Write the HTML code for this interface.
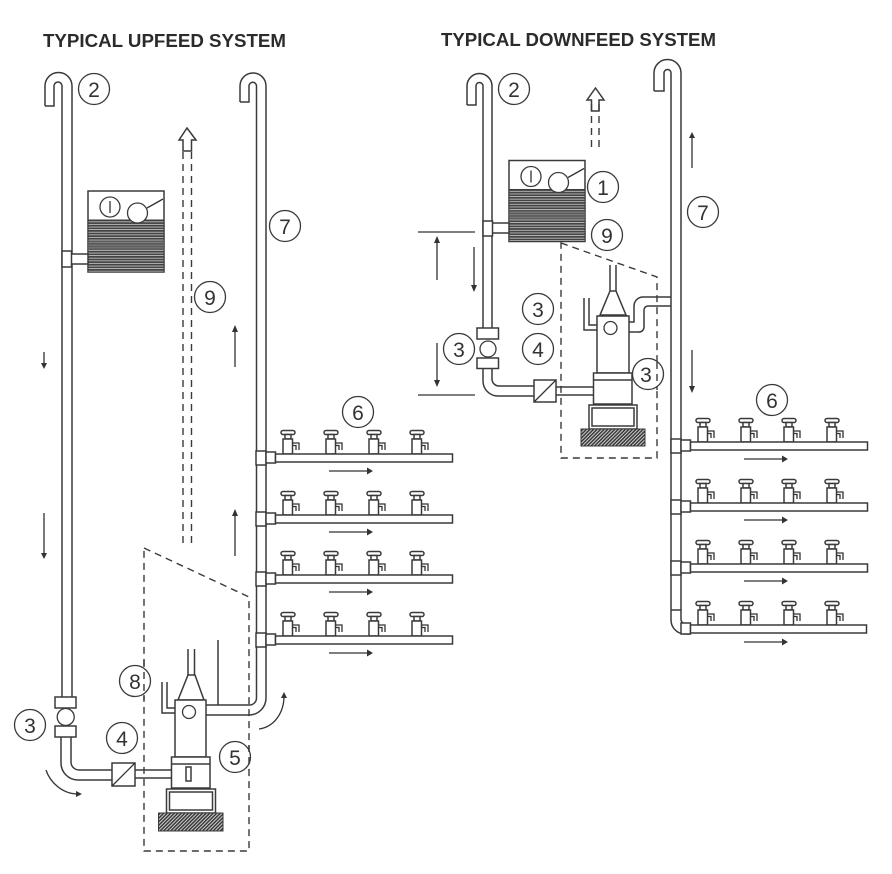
<!DOCTYPE html>
<html><head><meta charset="utf-8"><style>
html,body{margin:0;padding:0;background:#fff}
svg{display:block}
.p{fill:none;stroke:#3a3a3a;stroke-width:1.5}
.w{fill:#fff;stroke:#3a3a3a;stroke-width:1.5}
.d{fill:none;stroke:#3a3a3a;stroke-width:1.4;stroke-dasharray:7 5}
.l{fill:none;stroke:#333;stroke-width:1.3}
.c{fill:#fff;stroke:#3a3a3a;stroke-width:1.3}
text{font-family:"Liberation Sans",sans-serif;fill:#333}
.n{font-size:21px;text-anchor:middle}
.t{font-size:18.500px;font-weight:bold;fill:#2b2b2b}
</style></head><body>
<svg width="892" height="874" viewBox="0 0 892 874" xmlns="http://www.w3.org/2000/svg">
<defs>
<pattern id="st" width="4" height="2.6" patternUnits="userSpaceOnUse"><rect width="4" height="2.6" fill="#ddd"/><rect width="4" height="1.9" fill="#444"/></pattern>
<pattern id="ha" width="2.5" height="2.5" patternUnits="userSpaceOnUse" patternTransform="rotate(-45)"><rect width="2.5" height="2.5" fill="#ddd"/><rect width="2.5" height="1.6" fill="#3a3a3a"/></pattern>
<g id="tank">
<rect x="0" y="0" width="76" height="81" class="w"/>
<rect x="0" y="29" width="76" height="52" fill="url(#st)" stroke="#3a3a3a" stroke-width="1"/>
<rect x="0" y="50" width="76" height="9" fill="#666" opacity=".7"/>
<circle cx="22" cy="16" r="10" class="c"/><path d="M22 10V22" class="l"/>
<circle cx="49.500" cy="22" r="10" class="c"/><path d="M59 17L75 8" class="l"/>
</g>
<g id="f">
<rect x="-7" y="-27.500" width="14" height="4" rx="2" class="w"/>
<rect x="-3" y="-23.500" width="6" height="4.500" class="w"/>
<rect x="-5" y="-19" width="9.500" height="15" class="w"/>
<path d="M4.500-15H11V-8M4.500-12.500H8V-8" class="l"/>
</g>
<g id="row">
<use href="#f" x="32" y="0"/><use href="#f" x="75" y="0"/><use href="#f" x="118" y="0"/><use href="#f" x="161" y="0"/>
<rect x="0" y="-7" width="10" height="14" class="w"/>
<rect x="10" y="-6" width="9.500" height="11" class="w"/>
<rect x="19.500" y="-4" width="177" height="8" class="w"/>
<path d="M73 13H112" class="l"/><path d="M111 9.500L117 13L111 16.500Z" fill="#333"/>
</g>
</defs>
<rect width="892" height="874" fill="#fff"/>

<text class="t" x="43" y="47" textLength="243" lengthAdjust="spacingAndGlyphs">TYPICAL UPFEED SYSTEM</text>
<text class="t" x="441" y="46" textLength="275" lengthAdjust="spacingAndGlyphs">TYPICAL DOWNFEED SYSTEM</text>

<!-- LEFT SYSTEM -->
<path class="p" d="M45 106V86A13.500 13.500 0 0 1 72 86V697M45 106H54V86A4 4 0 0 1 62 86V697"/>
<use href="#tank" x="88" y="191"/>
<rect x="71" y="254" width="17" height="10" class="w"/>
<rect x="62" y="251" width="9.500" height="16" class="w"/>
<rect x="55" y="697" width="21" height="11" class="w"/>
<circle cx="65.700" cy="717" r="8.500" class="c"/>
<rect x="55" y="726" width="21" height="11" class="w"/>
<path class="p" d="M61 737V763A17 17 0 0 0 78 780H112M71 737V762A8 8 0 0 0 79 770H112"/>
<rect x="112" y="763" width="23" height="23" class="w"/><path d="M112 786L135 763" class="l"/>
<path class="p" d="M135 770H171M135 778H171"/>

<path class="d" d="M144 548L249 597V851H144Z"/>
<path class="d" d="M183 152V545M191.500 152V545"/>
<path class="p" d="M187 128L196 140H191.500V151H183V140H179Z"/>

<path class="p" d="M188 649V675M194.500 649V675M218 640V705"/>
<path class="w" d="M188 675H195L204 700H178Z"/>
<path class="p" d="M162 682V713H175M167 682V708H175"/>
<rect x="175" y="700" width="31" height="57" class="w"/>
<circle cx="189" cy="712" r="6.500" class="c"/>
<rect x="171.500" y="757" width="38.500" height="31" class="w"/><path d="M171.500 764H210" class="p"/>
<rect x="186" y="767" width="5" height="14" class="w"/>
<rect x="166.500" y="789" width="49" height="24" class="w"/><rect x="169.500" y="792" width="43" height="18" class="p"/>
<rect x="158.500" y="813" width="64.500" height="18" fill="url(#ha)" stroke="#3a3a3a"/>

<path class="p" d="M240 102V86A13 13 0 0 1 266 86V698A17 17 0 0 1 249 715H206M240 102H249V86A3.500 3.500 0 0 1 256.500 86V698A7 7 0 0 1 249 705H206"/>
<use href="#row" x="256" y="458"/><use href="#row" x="256" y="519"/><use href="#row" x="256" y="579"/><use href="#row" x="256" y="640"/>

<path class="l" d="M44 352V364M44 513V555M235 367V332M235 556V516"/>
<path d="M41 363L44 369L47 363ZM41 553L44 559L47 553ZM232 332L235 325L238 332ZM232 516L235 509L238 516Z" fill="#333"/>
<path class="l" d="M46 770C50 782 62 794 78 794"/><path d="M76 791L82 794L76 797Z" fill="#333"/>
<path class="l" d="M259 729C274 727 284 713 284 696"/><path d="M281 698L284 692L287 698Z" fill="#333"/>

<circle cx="94" cy="89" r="15.500" class="c"/><text class="n" x="94" y="97">2</text>
<circle cx="285" cy="226" r="15.500" class="c"/><text class="n" x="285" y="234">7</text>
<circle cx="210" cy="297" r="15.500" class="c"/><text class="n" x="210" y="305">9</text>
<circle cx="358" cy="412" r="15.500" class="c"/><text class="n" x="358" y="420">6</text>
<circle cx="135" cy="681" r="15.500" class="c"/><text class="n" x="135" y="689">8</text>
<circle cx="30" cy="725" r="15.500" class="c"/><text class="n" x="30" y="733">3</text>
<circle cx="122" cy="738" r="15.500" class="c"/><text class="n" x="122" y="746">4</text>
<circle cx="235" cy="757" r="15.500" class="c"/><text class="n" x="235" y="765">5</text>
<path class="d" d="M144 660V700M249 745V770"/>

<!-- RIGHT SYSTEM -->
<path class="p" d="M467 105V86A12.500 12.500 0 0 1 492 86V328M467 105H476V86A3.500 3.500 0 0 1 483 86V328"/>
<use href="#tank" x="509" y="160.500"/>
<rect x="492" y="223" width="17" height="10" class="w"/>
<rect x="483" y="221" width="9.500" height="15" class="w"/>
<rect x="477" y="328" width="21.500" height="11" class="w"/>
<circle cx="488" cy="349" r="8" class="c"/>
<rect x="477" y="358" width="21.500" height="10.500" class="w"/>
<path class="p" d="M483 368V381A15 15 0 0 0 498 396H534M492 368V379A7 7 0 0 0 499 386H534"/>
<rect x="534" y="380" width="22" height="22" class="w"/><path d="M534 402L556 380" class="l"/>
<path class="p" d="M556 387H593M556 395H593"/>

<path class="d" d="M561 243L657 277V458H561Z"/>
<path class="d" d="M591.500 104V150M599 104V150"/>
<path class="p" d="M595.500 88L604 100H599V111H591.500V100H587Z"/>

<path class="p" d="M610 265V291M616 265V291"/>
<path class="w" d="M610 291H616L626 315H600Z"/>
<path class="p" d="M584 298V330H597M589 298V325H597"/>
<rect x="597" y="316" width="32" height="57" class="w"/>
<circle cx="610.500" cy="328" r="6.500" class="c"/>
<rect x="593.500" y="373" width="38.500" height="31" class="w"/><path d="M593.500 380H632" class="p"/>
<rect x="589" y="405" width="48" height="24" class="w"/><rect x="592" y="408" width="42" height="18" class="p"/>
<rect x="581" y="429" width="64" height="17" fill="url(#ha)" stroke="#3a3a3a"/>
<path class="p" d="M629 322H634V306A9 9 0 0 1 643 297H671M629 332H639A5 5 0 0 0 644 327V310A4 4 0 0 1 648 306H671"/>

<path class="p" d="M654 91V73A13.500 13.500 0 0 1 681 73V610M654 91H664V73A3.500 3.500 0 0 1 671 73V620A14 14 0 0 0 685 634H690"/>
<path class="p" d="M671 610H681V620A5 5 0 0 0 686 624H690"/>
<use href="#row" x="671" y="446"/><use href="#row" x="671" y="507"/><use href="#row" x="671" y="568"/>
<use href="#f" x="703" y="629"/><use href="#f" x="746" y="629"/><use href="#f" x="789" y="629"/><use href="#f" x="832" y="629"/>
<rect x="681" y="623" width="9.500" height="11" class="w"/>
<rect x="690.500" y="625" width="176" height="8" class="w"/>
<path class="l" d="M744 642H783"/><path d="M782 638.500L788 642L782 645.500Z" fill="#333"/>

<path class="l" d="M418 232H475M418 395H475M437 280V243M474 247V285M437 343V380M692 168V138M692 350V386"/>
<path d="M434 243L437 236L440 243ZM471 285L474 292L477 285ZM434 380L437 387L440 380ZM689 138L692 132L695 138ZM689 386L692 393L695 386Z" fill="#333"/>

<circle cx="514" cy="89" r="15.500" class="c"/><text class="n" x="514" y="97">2</text>
<circle cx="603" cy="187" r="15.500" class="c"/><text class="n" x="603" y="195">1</text>
<circle cx="607" cy="235" r="15.500" class="c"/><text class="n" x="607" y="243">9</text>
<circle cx="538" cy="309" r="15.500" class="c"/><text class="n" x="538" y="317">3</text>
<circle cx="538" cy="349" r="15.500" class="c"/><text class="n" x="538" y="357">4</text>
<circle cx="459" cy="349" r="15.500" class="c"/><text class="n" x="459" y="357">3</text>
<circle cx="648" cy="374" r="15.500" class="c"/><text class="n" x="646" y="382">3</text>
<circle cx="703" cy="212" r="15.500" class="c"/><text class="n" x="703" y="220">7</text>
<circle cx="772" cy="400" r="15.500" class="c"/><text class="n" x="772" y="408">6</text>
<path class="d" d="M657 362V390"/>
</svg>
</body></html>
